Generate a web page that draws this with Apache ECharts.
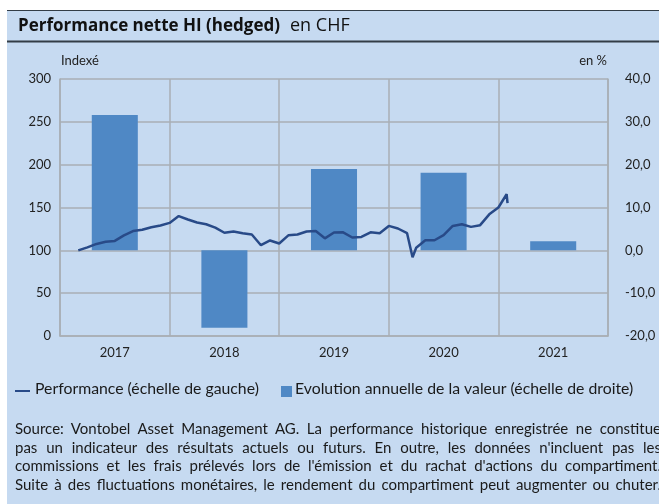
<!DOCTYPE html>
<html>
<head>
  <meta charset="utf-8">
  <title>Performance nette HI (hedged)</title>
  <script src="https://cdn.jsdelivr.net/npm/echarts@6/dist/echarts.min.js"></script>
  <style>
    html, body { margin: 0; padding: 0; background: #ffffff; overflow: hidden; }
    #bg { position: absolute; left: 7px; top: 10px; width: 652px; height: 494px; background: #c6daf1; }
    #chart { position: absolute; left: 0; top: 0; width: 659px; height: 504px; }
    #note {
      position: absolute; left: 15px; top: 419px; width: 646px;
      font-family: Lato, "Open Sans", sans-serif; font-size: 15px; line-height: 18.7px; color: #1a1a1a;
    }
    #note div { text-align: justify; text-align-last: justify; white-space: nowrap; }
  </style>
</head>
<body>
<div id="bg"></div>
<div id="chart"></div>
<div id="note">
  <div>Source: Vontobel Asset Management AG. La performance historique enregistrée ne constitue</div>
  <div>pas un indicateur des résultats actuels ou futurs. En outre, les données n'incluent pas les</div>
  <div>commissions et les frais prélevés lors de l'émission et du rachat d'actions du compartiment.</div>
  <div>Suite à des fluctuations monétaires, le rendement du compartiment peut augmenter ou chuter.</div>
</div>

<script>
  // années (axe des catégories)
  var years = ['2017', '2018', '2019', '2020', '2021'];
  // évolution annuelle en % (échelle de droite)
  var annualPct = [31.6, -18.1, 19.0, 18.1, 2.1];
  // performance indexée, position en mois depuis janv. 2017 (échelle de gauche)
  var perfMonths = [2, 3, 4, 5, 6, 7, 8, 9, 10, 11, 12, 13, 14, 15, 16, 17, 18, 19, 20, 21,
    22, 23, 24, 25, 26, 27, 28, 29, 30, 31, 32, 33, 34, 35, 36, 37, 38, 38.6, 39, 40,
    41, 42, 43, 44, 45, 46, 47, 48, 48.9, 49];
  var perfValues = [100, 103.5, 107.5, 110, 111, 117.5, 122.5, 124, 127, 129, 132, 140, 136, 132.5, 130.5, 126.5, 120.5, 122, 120, 118.5,
    106, 111.5, 108, 117.5, 118.5, 122, 122.5, 114, 120.8, 121, 115, 115.7, 121, 120, 128.5, 125.5, 120, 92, 103, 111.8,
    111.8, 117.7, 128.5, 130.5, 127.4, 129.4, 142, 150, 165.5, 155];

  var font = 'Lato, "Open Sans", sans-serif';
  var titleFont = '"Open Sans", Lato, sans-serif';
  var gridColor = '#a9aeb4';
  var barColor = '#4f88c5';
  var lineColor = '#284a88';

  var perfData = perfMonths.map(function (m, i) { return [m, perfValues[i]]; });

  var myChart = echarts.init(document.getElementById('chart'));
  var option = {
    backgroundColor: 'transparent',
    animation: false,
    textStyle: { fontFamily: font },
    title: {
      text: '{b|Performance nette HI (hedged)}{n|en CHF}',
      left: 13, top: 12,
      textStyle: {
        fontWeight: 'normal',
        rich: {
          b: { fontFamily: titleFont, fontSize: 17, fontWeight: 'bold', color: '#111' },
          n: { fontFamily: titleFont, fontSize: 18, fontWeight: 'normal', color: '#111', padding: [0, 0, 0, 10] }
        }
      }
    },
    grid: { left: 60, right: 51, top: 79, bottom: 168 },
    xAxis: [
      {
        type: 'category', data: years, boundaryGap: true,
        axisTick: { show: false },
        axisLine: { lineStyle: { color: gridColor, width: 1.5 } },
        splitLine: { show: true, lineStyle: { color: gridColor, width: 1.5 } },
        axisLabel: { color: '#222', fontSize: 13, margin: 10 }
      },
      { type: 'value', min: 0, max: 60, show: false }
    ],
    yAxis: [
      {
        type: 'value', min: 0, max: 300, interval: 50,
        axisLine: { show: true, lineStyle: { color: gridColor, width: 1.5 } },
        axisTick: { show: false },
        splitLine: { lineStyle: { color: gridColor, width: 1.5 } },
        axisLabel: { color: '#222', fontSize: 13, margin: 9 }
      },
      {
        type: 'value', min: -20, max: 40, interval: 10,
        axisLine: { show: true, lineStyle: { color: gridColor, width: 1.5 } },
        axisTick: { show: false },
        splitLine: { show: false },
        axisLabel: {
          color: '#222', fontSize: 13, margin: 17,
          formatter: function (v) { return v.toFixed(1).replace('.', ','); }
        }
      }
    ],
    graphic: [
      { type: 'line', shape: { x1: 7, y1: 10.5, x2: 659, y2: 10.5 }, style: { stroke: '#333d47', lineWidth: 1 } },
      { type: 'line', shape: { x1: 7, y1: 41.5, x2: 659, y2: 41.5 }, style: { stroke: '#333d47', lineWidth: 2 } },
      { type: 'text', left: 61, top: 54, style: { text: 'Indexé', font: '13px ' + font, fill: '#222' } },
      { type: 'text', right: 52, top: 54, style: { text: 'en %', font: '13px ' + font, fill: '#222' } },
      { type: 'rect', shape: { x: 15, y: 390, width: 15, height: 2 }, style: { fill: lineColor } },
      { type: 'text', left: 35, top: 381, style: { text: 'Performance (échelle de gauche)', font: '15.8px ' + font, fill: '#1a1a1a' } },
      { type: 'rect', shape: { x: 281, y: 386, width: 11, height: 11 }, style: { fill: barColor } },
      { type: 'text', left: 295, top: 381, style: { text: 'Evolution annuelle de la valeur (échelle de droite)', font: '15.8px ' + font, fill: '#1a1a1a' } }
    ],
    series: [
      {
        name: 'Evolution annuelle de la valeur (échelle de droite)',
        type: 'bar', xAxisIndex: 0, yAxisIndex: 1,
        barWidth: '42%',
        itemStyle: { color: barColor },
        data: annualPct
      },
      {
        name: 'Performance (échelle de gauche)',
        type: 'line', xAxisIndex: 1, yAxisIndex: 0,
        showSymbol: false, symbol: 'none',
        lineStyle: { color: lineColor, width: 2.5 },
        data: perfData
      }
    ]
  };
  myChart.setOption(option);
</script>
</body>
</html>
